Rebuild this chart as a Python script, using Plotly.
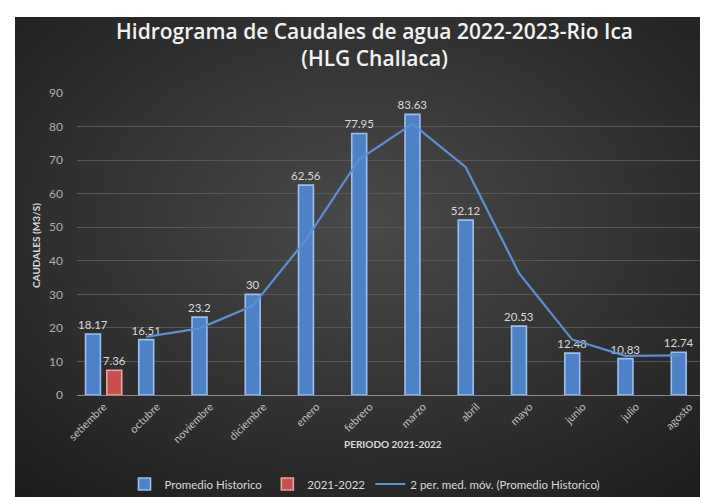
import base64
import plotly.graph_objects as go

# data
meses = ["setiembre", "octubre", "noviembre", "diciembre", "enero", "febrero",
         "marzo", "abril", "mayo", "junio", "julio", "agosto"]
promedio_historico = [18.17, 16.51, 23.2, 30, 62.56, 77.95, 83.63, 52.12, 20.53, 12.48, 10.83, 12.74]
caudal_2021_2022 = [7.36, None, None, None, None, None, None, None, None, None, None, None]
media_movil = [None, 17.34, 19.86, 26.6, 46.28, 70.26, 80.79, 67.88, 36.33, 16.51, 11.66, 11.79]

W, H = 708, 497
ML, MR, MT, MB = 69, 0, 85, 110
PW, PH = W - ML - MR, H - MT - MB

TXT = "#d9d9d9"
FONT = "Lato"


def px_to_paper_x(px):
    return (px - ML) / PW


def px_to_paper_y(py):
    return (H - MB - py) / PH


# dark radial gradient background (as in the original Excel chart)
svg = (
    '<svg xmlns="http://www.w3.org/2000/svg" width="701" height="488" preserveAspectRatio="none">'
    '<defs><radialGradient id="g" cx="50%" cy="42%" r="75%">'
    '<stop offset="0%" stop-color="#4a4a4a"/>'
    '<stop offset="100%" stop-color="#1c1c1c"/>'
    '</radialGradient></defs>'
    '<rect width="701" height="488" fill="url(#g)"/></svg>'
)
bg_src = "data:image/svg+xml;base64," + base64.b64encode(svg.encode()).decode()

fig = go.Figure()

fig.add_trace(go.Bar(
    x=meses, y=promedio_historico, name="Promedio Historico",
    offset=-0.34, width=0.28,
    marker=dict(color="#4f81c6", line=dict(color="#9cc0ee", width=1.6)),
    text=[str(v) for v in promedio_historico], textposition="outside",
    constraintext="none",
    textfont=dict(color=TXT, size=11.5, family=FONT), cliponaxis=False,
))

fig.add_trace(go.Bar(
    x=meses, y=caudal_2021_2022, name="2021-2022",
    offset=0.06, width=0.28,
    marker=dict(color="#c9504d", line=dict(color="#eba3a1", width=1.6)),
    text=[str(v) if v is not None else "" for v in caudal_2021_2022], textposition="outside",
    constraintext="none",
    textfont=dict(color=TXT, size=11.5, family=FONT), cliponaxis=False,
))

fig.add_trace(go.Scatter(
    x=meses, y=media_movil, name="2 per. med. móv. (Promedio Historico)",
    mode="lines", xaxis="x2",
    line=dict(color="#5b8fd6", width=2.2),
))

fig.update_layout(
    width=W, height=H,
    margin=dict(l=ML, r=MR, t=MT, b=MB),
    paper_bgcolor="white",
    plot_bgcolor="rgba(0,0,0,0)",
    barmode="overlay",
    font=dict(family=FONT, color=TXT),
    xaxis=dict(
        type="category", categoryarray=meses, range=[-0.5, 11.5],
        tickangle=-45, tickfont=dict(size=11, color="#bfbfbf"),
        showgrid=False, showline=True, linecolor="#8c8c8c", linewidth=1,
        ticks="", fixedrange=True,
    ),
    xaxis2=dict(
        type="category", categoryarray=meses, overlaying="x",
        range=[-0.3, 11.7], visible=False, fixedrange=True,
    ),
    yaxis=dict(
        range=[0, 90], dtick=10, showgrid=True, gridcolor="#575757", gridwidth=1,
        zeroline=False, tickfont=dict(size=12, color="#b0b0b0"),
        ticklabelstandoff=13, fixedrange=True,
    ),
    legend=dict(
        orientation="h", x=px_to_paper_x(357), xanchor="center",
        y=px_to_paper_y(476), yanchor="middle",
        font=dict(size=11.5, color=TXT), bgcolor="rgba(0,0,0,0)",
        itemwidth=30, traceorder="normal",
    ),
    images=[dict(
        source=bg_src, xref="paper", yref="paper",
        x=px_to_paper_x(7), y=px_to_paper_y(9),
        sizex=(W - 7) / PW, sizey=(H - 9) / PH,
        xanchor="left", yanchor="top", sizing="stretch", layer="below",
    )],
    annotations=[
        dict(text="Hidrograma de Caudales de agua 2022-2023-Rio Ica<br>(HLG Challaca)",
             showarrow=False, xref="paper", yref="paper",
             x=px_to_paper_x(366), y=px_to_paper_y(7), xanchor="center", yanchor="top",
             font=dict(family="Open Sans", size=21, color="#f2f2f2", weight=600)),
        dict(text="<b>CAUDALES (M3/S)</b>", textangle=-90, showarrow=False,
             xref="paper", yref="paper", x=px_to_paper_x(28), y=px_to_paper_y(238),
             xanchor="center", yanchor="middle",
             font=dict(size=10, color=TXT)),
        dict(text="<b>PERIODO 2021-2022</b>", showarrow=False,
             xref="paper", yref="paper", x=px_to_paper_x(385), y=px_to_paper_y(436),
             xanchor="center", yanchor="middle",
             font=dict(size=10, color=TXT)),
    ],
)

fig.write_html("out.html")
